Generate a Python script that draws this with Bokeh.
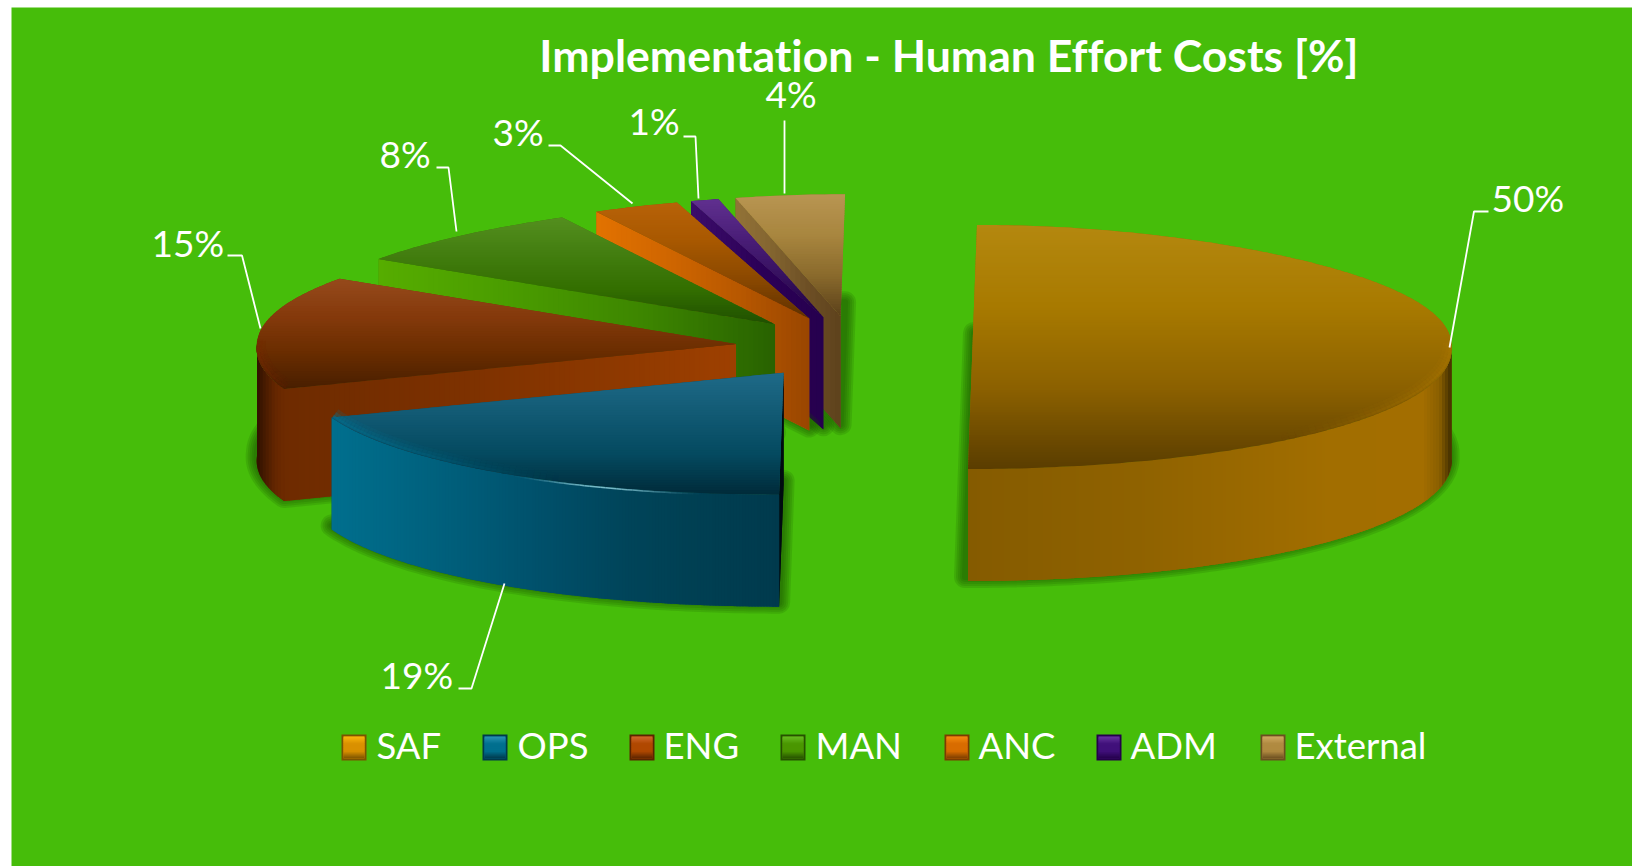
import numpy as np
from bokeh.plotting import figure
from bokeh.core.properties import value
from bokeh.embed import file_html
from bokeh.resources import INLINE

# ---- data ----
categories = ["SAF", "OPS", "ENG", "MAN", "ANC", "ADM", "External"]
shares = [50, 19, 15, 8, 3, 1, 4]
title_text = "Implementation - Human Effort Costs [%]"

# ---- layout / style ----
GREEN = "#46bd0a"
CX, CY = 853.0, 346.5          # pie centre on page
RX, RY, DEPTH = 479.0, 122.0, 112.0
EXPL_X, EXPL_Y = 119.0, 31.0   # explosion of every slice
PERSP_BACK, PERSP_FRONT = 0.09, 0.03
SKEW = 4.5
nudge = {"OPS": -3, "ENG": 1, "MAN": 3, "ANC": 3, "ADM": 3, "External": 2}

top_stops = {
    "SAF": ["#b4880f", "#a87a00", "#8c6100", "#5a3d00"],
    "OPS": ["#1f6a88", "#125a74", "#044a60", "#002b39"],
    "ENG": ["#964a1c", "#853a0c", "#6a2d00", "#481e00"],
    "MAN": ["#548f1e", "#437e10", "#336f00", "#1f4f00"],
    "ANC": ["#b86208", "#a85800", "#8a4800", "#5e3000"],
    "ADM": ["#60308f", "#4a1e78", "#35105e", "#200040"],
    "External": ["#b89552", "#a8863f", "#8a6a2c", "#5a401a"],
}
wall_stops = {
    "SAF": [(0, "#855b00"), (.35, "#8f6200"), (.75, "#a26e00"), (.94, "#a36e00"),
            (.975, "#8a5f00"), (1, "#3f2c00")],
    "OPS": ["#006f8e", "#006582", "#005a76", "#004e68", "#004459", "#003f52", "#003a4d"],
    "ENG": ["#2e1000", "#4a1c00", "#642600", "#6e2b00"],
    "MAN": [],
    "ANC": [],
    "ADM": [],
    "External": [],
}
cut_stops = {
    "OPS": ["#000000", "#00141c"],
    "ENG": ["#6e2b00", "#7a3000", "#8a3700", "#9e4000"],
    "MAN": ["#56ad00", "#4a9c00", "#3d8600", "#286200"],
    "ANC": ["#e27200", "#d06600", "#b85800", "#9a4600"],
    "ADM": ["#3c0e6a", "#2c0058", "#26004e"],
    "External": ["#927338", "#846530", "#6e5026", "#5e421c"],
}
# rim: (colour, angle of strongest rim in degrees, fade span in degrees)
rim_style = {
    "SAF": ("#a87600", 90, 50),
    "OPS": ("#04708f", 248.4, 42),
    "ENG": ("#7a3008", 270, 30),
}
shadow_dx = {"SAF": -3}
legend_colors = {
    "SAF": ("#fbb60c", "#d99000", "#7a5300"),
    "OPS": ("#2a93b4", "#006f8e", "#00394b"),
    "ENG": ("#d0672c", "#b04800", "#5a2400"),
    "MAN": ("#66bb22", "#4a9600", "#265000"),
    "ANC": ("#f58a10", "#d86c00", "#7a3c00"),
    "ADM": ("#6a35a0", "#40107a", "#24004a"),
    "External": ("#cfa862", "#b08a40", "#6a4e20"),
}
legend_sw_x = [341, 482, 629, 780, 944, 1096, 1260]
legend_tx_x = [376, 517, 663, 815, 978, 1130, 1294]
label_text = ["50%", "19%", "15%", "8%", "3%", "1%", "4%"]
label_x = [1491, 380, 151, 379, 492, 628, 765]
label_y = [197, 674, 242, 153, 131, 120, 93]
leader_x = [[1449, 1473.5, 1488], [504, 471, 458], [260, 241.5, 227], [456, 448, 436],
            [632, 560, 548], [698, 695, 683], [784, 784]]
leader_y = [[347, 211, 211], [583, 688, 688], [328, 255, 255], [231, 167, 167],
            [203, 145, 145], [198, 136, 136], [193, 120]]

p = figure(width=1632, height=866, x_range=(0, 1632), y_range=(866, 0),
           output_backend="svg", toolbar_location=None, min_border=0,
           border_fill_color="white", background_fill_color="white", outline_line_color=None,
           x_axis_location=None, y_axis_location=None)
p.grid.visible = False
p.quad(left=[11], right=[1632], top=[7], bottom=[866], fill_color=GREEN, line_color=None)


def to_rgb(c):
    return np.array([int(c[i:i + 2], 16) for i in (1, 3, 5)], float)


def lerp_color(stops, t):
    if isinstance(stops[0], str):
        n = len(stops) - 1
        stops = [(k / n, c) for k, c in enumerate(stops)]
    t = float(np.clip(t, 0, 1))
    for (a, ca), (b, cb) in zip(stops[:-1], stops[1:]):
        if t <= b:
            f = (t - a) / max(b - a, 1e-6)
            c = to_rgb(ca) * (1 - f) + to_rgb(cb) * f
            return "#%02x%02x%02x" % tuple(int(round(v)) for v in c)
    return stops[-1][1]


def clip(poly, axis, lo, hi):
    def half(pts, val, keep_greater):
        out = []
        n = len(pts)
        for k in range(n):
            a, b = pts[k], pts[(k + 1) % n]
            ina = a[axis] >= val if keep_greater else a[axis] <= val
            inb = b[axis] >= val if keep_greater else b[axis] <= val
            if ina:
                out.append(a)
            if ina != inb:
                t = (val - a[axis]) / (b[axis] - a[axis])
                out.append((a[0] + t * (b[0] - a[0]), a[1] + t * (b[1] - a[1])))
        return out
    pts = half(list(poly), lo, True)
    if pts:
        pts = half(pts, hi, False)
    return pts


def gradient(poly, stops, axis, step):
    """Fill polygon with a linear gradient, drawn as overlapping bands."""
    if len(stops) == 0:
        return
    arr = np.array(poly)
    lo, hi = arr[:, axis].min(), arr[:, axis].max()
    xs, ys, cs = [[x for x, _ in poly]], [[y for _, y in poly]], [lerp_color(stops, 0.5)]
    v = lo
    while v < hi:
        b = clip(poly, axis, v, min(v + step + 0.8, hi))
        if len(b) >= 3:
            xs.append([q[0] for q in b])
            ys.append([q[1] for q in b])
            cs.append(lerp_color(stops, (v + step / 2 - lo) / max(hi - lo, 1)))
        v += step
    p.patches(xs, ys, fill_color=cs, line_color=None)


def project(ax, ay, th):
    s, c = np.sin(th), np.cos(th)
    scale = 1 - PERSP_BACK * np.maximum(c, 0) ** 3 + PERSP_FRONT * np.maximum(-c, 0)
    x = ax + RX * s * scale + SKEW * c
    y = ay - RY * c
    return x, y


total = sum(shares)
edges = np.concatenate([[0], np.cumsum(shares)]) / total * 2 * np.pi
geom = {}
for i, name in enumerate(categories):
    t0, t1 = edges[i], edges[i + 1]
    mid = (t0 + t1) / 2
    geom[name] = (t0, t1, CX + EXPL_X * np.sin(mid) + nudge.get(name, 0), CY - EXPL_Y * np.cos(mid))

for name in ["External", "ADM", "ANC", "MAN", "ENG", "OPS", "SAF"]:
    t0, t1, ax, ay = geom[name]
    th = np.linspace(t0, t1, max(8, int((t1 - t0) * 70)))
    ox, oy = project(ax, ay, th)
    top = [(ax, ay)] + list(zip(ox, oy))

    # soft shadow: footprint stroked with growing transparent outlines
    sx = [q[0] + shadow_dx.get(name, 0) for q in top]
    sy = [q[1] + DEPTH - 4 for q in top]
    for w in (22, 18, 14, 10, 6):
        p.patch(sx, sy, fill_color=None, line_color="#1b5200", line_alpha=0.16,
                line_width=w, line_join="round")

    # straight cut face that looks toward the viewer
    if name != "SAF":
        ex, ey = project(ax, ay, t0)
        cut = [(ex, ey), (ax, ay), (ax, ay + DEPTH), (ex, ey + DEPTH)]
        gradient(cut, cut_stops[name], 0, 5)

    # curved outer wall (front half only)
    a, b = max(t0, np.pi / 2), min(t1, 3 * np.pi / 2)
    if b > a and wall_stops[name]:
        tw = np.linspace(a, b, 90)
        wx, wy = project(ax, ay, tw)
        wall = list(zip(wx, wy)) + list(zip(wx[::-1], wy[::-1] + DEPTH))
        gradient(wall, wall_stops[name], 0, 3)

    gradient(top, top_stops[name], 1, 2.5)

    if name in rim_style:
        # bevel: wall colour rolling over the top face near the silhouette, soft layers
        col, peak, span = rim_style[name]
        tr = np.linspace(a, b, 80)
        rx_, ry_ = project(ax, ay, tr)
        al = np.clip(1 - np.abs(np.degrees(tr) - peak) / span, 0, 1)
        for w, strength in ((9, 0.2), (6, 0.3), (3, 0.45)):
            xr = rx_ - (w / 2) * np.sin(tr)
            yr = ry_ - (w / 2)
            p.multi_line([[xr[k], xr[k + 1]] for k in range(79)],
                         [[yr[k], yr[k + 1]] for k in range(79)],
                         line_color=col, line_alpha=list(al[:-1] * strength), line_width=w)

    if name == "OPS":
        # thin specular streak on the front rim
        hl = np.linspace(np.radians(188), np.radians(214), 40)
        hx, hy = project(ax, ay, hl)
        al = np.sin(np.linspace(0, np.pi, 39)) ** 2 * 0.85
        p.multi_line([[hx[k], hx[k + 1]] for k in range(39)],
                     [[hy[k] + 1, hy[k + 1] + 1] for k in range(39)],
                     line_color="#8fd0dc", line_alpha=list(al), line_width=1.5)

# leaders
p.multi_line(leader_x, leader_y, line_color="white", line_width=1.8)
# data labels
p.text(label_x, label_y, text=label_text, text_color="white", text_font=value("Lato"),
       text_font_size="37px", text_align="left", text_baseline="middle")
# title
p.text([948], [54], text=[title_text], text_color="white", text_font=value("Lato"),
       text_font_style="bold", text_font_size="44.6px", text_align="center", text_baseline="middle")

# legend
for i, name in enumerate(categories):
    x0 = legend_sw_x[i]
    light, base, dark = legend_colors[name]
    p.quad(left=[x0], right=[x0 + 25], top=[734], bottom=[760], fill_color=dark, line_color=None)
    box = [(x0 + 2, 736), (x0 + 23, 736), (x0 + 23, 758), (x0 + 2, 758)]
    gradient(box, [light, base, base, dark], 1, 2)
    p.text([legend_tx_x[i]], [744], text=[name], text_color="white", text_font=value("Lato"),
           text_font_size="36.5px", text_align="left", text_baseline="middle")

html = file_html(p, INLINE)
html = html.replace("</head>", "<style>html,body{font-variant-ligatures:none;overflow:hidden}</style></head>", 1)
open("out.html", "w").write(html)
